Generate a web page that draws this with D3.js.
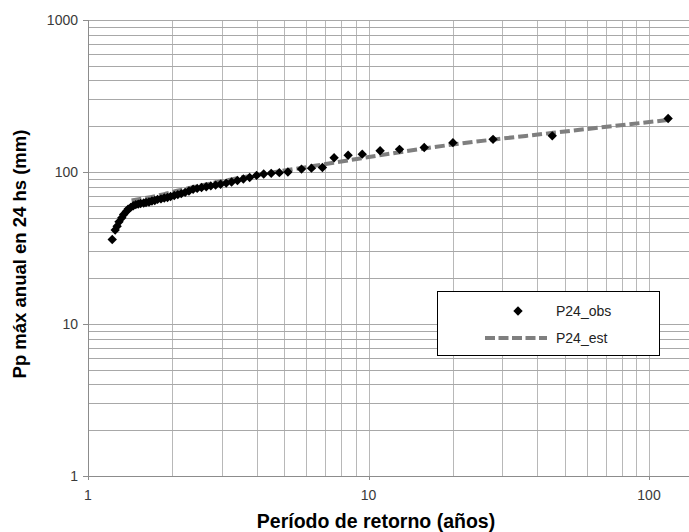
<!DOCTYPE html>
<html><head><meta charset="utf-8">
<script src="https://cdn.jsdelivr.net/npm/d3@7"></script>
<style>html,body{margin:0;padding:0;background:#fff}svg{display:block}</style>
</head><body><svg id="c" width="689" height="532"></svg>
<script>
// Observed: return period (years) and annual max 24h precipitation (mm)
const obsT = [1.22,1.25,1.27,1.29,1.32,1.34,1.37,1.39,1.42,1.45,1.48,1.51,1.54,1.58,1.61,1.65,1.69,1.73,1.77,1.82,1.87,1.92,1.97,2.03,2.09,2.15,2.22,2.29,2.37,2.45,2.54,2.64,2.74,2.85,2.97,3.11,3.25,3.41,3.58,3.77,3.99,4.23,4.50,4.81,5.16,5.77,6.26,6.85,7.54,8.46,9.5,11.0,12.9,15.8,20.0,27.8,45.2,117];
const obsP = [36,41.5,44,47,50,52.5,55,57,58.5,60,61,61.5,62,62.5,63,63.5,64.5,65,66,66.5,67.5,68,69,70,71,72,73.5,75,77,78,79,80,81,82,83,84.5,86,88,90,92,95,97,98,99,100,104.5,106,107,124,129,131,138,141,145,156,164,173,225];
// Estimated (fitted) curve nodes
const estT = [1.43,1.87,2.1,3.0,6.26,20.6,45.5,117];
const estP = [65,71.5,75.5,87,109,152.7,181,220];
const xTickLabels = [1,10,100];
const yTickLabels = [1,10,100,1000];
const legendLabels = ["P24_obs","P24_est"];

const svg = d3.select("#c");
const L=88, R=689, T=20, B=476;
const x = d3.scaleLog().domain([1,100]).range([L,649]);
const y = d3.scaleLog().domain([1,1000]).range([B,T]);
const xGrid = d3.scaleLog().domain([1, x.invert(R)]).ticks().filter(v=>v>1);
const yGrid = y.ticks().filter(v=>v>1);
const FONT = "Liberation Sans, Arial, sans-serif";

svg.append("defs").append("clipPath").attr("id","clip").append("rect")
  .attr("x",L).attr("y",T-6).attr("width",R-L).attr("height",B-T+12);

const g = svg.append("g");
g.selectAll(".vg").data(xGrid).join("line")
  .attr("x1",d=>Math.round(x(d))+0.5).attr("x2",d=>Math.round(x(d))+0.5)
  .attr("y1",T).attr("y2",B).attr("stroke","#b8b8b8").attr("stroke-width",1);
g.selectAll(".hg").data(yGrid).join("line")
  .attr("x1",L).attr("x2",R)
  .attr("y1",d=>Math.round(y(d))+0.5).attr("y2",d=>Math.round(y(d))+0.5)
  .attr("stroke","#a8a8a8").attr("stroke-width",1);

// axes lines
g.append("line").attr("x1",L+0.5).attr("x2",L+0.5).attr("y1",T).attr("y2",B+4).attr("stroke","#8c8c8c");
g.append("line").attr("x1",L-5).attr("x2",R).attr("y1",B+0.5).attr("y2",B+0.5).attr("stroke","#8c8c8c");
g.selectAll(".yt").data(yTickLabels).join("line")
  .attr("x1",L-5).attr("x2",L).attr("y1",d=>Math.round(y(d))+0.5).attr("y2",d=>Math.round(y(d))+0.5).attr("stroke","#8c8c8c");
g.selectAll(".xt").data(xTickLabels).join("line")
  .attr("x1",d=>Math.round(x(d))+0.5).attr("x2",d=>Math.round(x(d))+0.5).attr("y1",B).attr("y2",B+4).attr("stroke","#8c8c8c");

svg.selectAll(".ytl").data(yTickLabels).join("text")
  .attr("x",L-10).attr("y",d=>y(d)).attr("dy","0.35em").attr("text-anchor","end")
  .attr("font-family",FONT).attr("font-size",14).attr("fill","#3a3a3a")
  .text(d=>d);
svg.selectAll(".xtl").data(xTickLabels).join("text")
  .attr("x",d=>x(d)).attr("y",B+19).attr("dy","0.35em").attr("text-anchor","middle")
  .attr("font-family",FONT).attr("font-size",14).attr("fill","#3a3a3a")
  .text(d=>d);

// estimated line
const plot = svg.append("g").attr("clip-path","url(#clip)");
const estData = estT.map((t,i)=>[t,estP[i]]);
plot.append("path").datum(estData)
  .attr("d", d3.line().x(d=>x(d[0])).y(d=>y(d[1])).curve(d3.curveMonotoneX))
  .attr("fill","none").attr("stroke","#7f7f7f").attr("stroke-width",4).attr("stroke-dasharray","10,4");

// observed diamonds
const obsData = obsT.map((t,i)=>[t,obsP[i]]);
const diamond = d3.symbol().type(d3.symbolSquare).size(44);
plot.selectAll(".pt").data(obsData).join("path")
  .attr("d",diamond)
  .attr("transform",d=>`translate(${x(d[0])},${y(d[1])}) rotate(45)`)
  .attr("fill","#000");

// legend
const lg = svg.append("g");
lg.append("rect").attr("x",437.5).attr("y",291.5).attr("width",222).attr("height",64)
  .attr("fill","#fff").attr("stroke","#000").attr("stroke-width",1);
lg.append("path").attr("d",diamond).attr("transform","translate(518,311) rotate(45)").attr("fill","#000");
lg.append("line").attr("x1",485).attr("x2",547).attr("y1",338).attr("y2",338)
  .attr("stroke","#7f7f7f").attr("stroke-width",4).attr("stroke-dasharray","10,3.5");
lg.selectAll("text").data(legendLabels).join("text")
  .attr("x",556).attr("y",(d,i)=>311+i*27).attr("dy","0.35em")
  .attr("font-family",FONT).attr("font-size",14).attr("fill","#222")
  .text(d=>d);

// titles
svg.append("text").attr("x",376).attr("y",521).attr("dy","0.35em").attr("text-anchor","middle")
  .attr("font-family",FONT).attr("font-weight","bold").attr("font-size",19.5).attr("fill","#000")
  .text("Período de retorno (años)");
svg.append("text").attr("transform",`translate(20,${(T+B)/2+6}) rotate(-90)`).attr("dy","0.35em").attr("text-anchor","middle")
  .attr("font-family",FONT).attr("font-weight","bold").attr("font-size",18.5).attr("fill","#000")
  .text("Pp máx anual en 24 hs (mm)");
</script></body></html>
